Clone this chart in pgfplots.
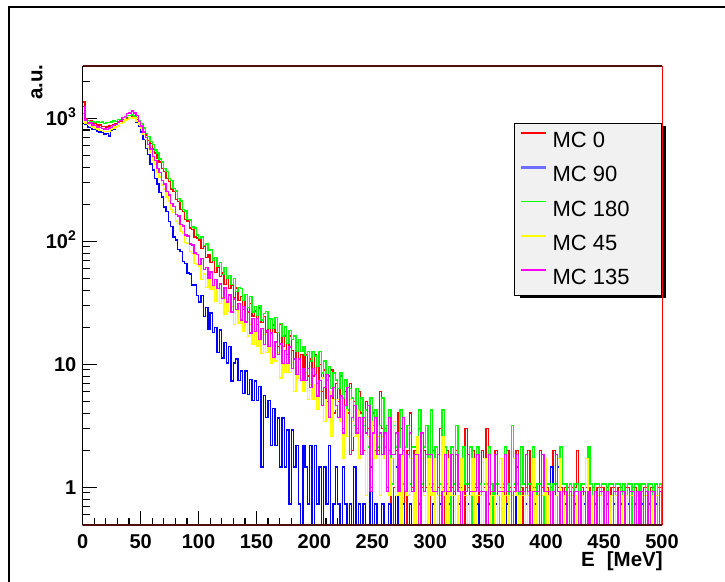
\documentclass[border=0pt]{standalone}
\usepackage{fontspec}
\setmainfont{Liberation Sans}
\usepackage{pgfplots}
\usepackage{pgfplotstable}
\pgfplotsset{compat=1.18}
\definecolor{hred}{RGB}{255,0,0}
\definecolor{hblue}{RGB}{0,0,255}
\definecolor{hgreen}{RGB}{0,255,0}
\definecolor{hyellow}{RGB}{255,255,0}
\definecolor{hmag}{RGB}{255,0,255}
\definecolor{hbluelight}{RGB}{110,110,255}
\definecolor{legfill}{RGB}{241,241,241}
\definecolor{framedark}{RGB}{80,15,15}
\pgfplotstableread{
x r b g y m
0 0.01 0.01 0.01 0.01 0.01
0 1350 1010 1085 1000 1240
2 995 885 980 915 965
4 955 850 960 895 915
6 948 845 935 860 912
8 915 812 942 850 880
10 910 808 925 822 872
12 882 785 935 818 845
14 880 770 918 795 842
16 858 765 930 792 820
18 860 742 905 775 818
20 845 748 918 780 805
22 862 715 925 782 830
24 868 795 928 810 840
26 890 815 948 822 872
28 900 850 945 850 890
30 930 865 972 866 932
32 940 905 980 905 955
34 972 925 1010 925 1008
36 980 965 1018 965 1035
38 1005 978 1048 980 1090
40 1008 1010 1045 1010 1105
42 1020 1002 1062 1005 1140
44 995 995 1040 1000 1100
46 970 925 1015 945 1045
48 905 855 960 895 945
50 860 770 900 830 865
52 780 672 830 735 770
54 730 570 755 668 698
56 660 505 712 580 612
58 620 425 648 525 560
60 560 378 612 455 490
62 522 322 550 418 452
64 468 292 520 360 392
66 440 248 465 332 362
68 390 228 440 286 312
70 368 190 392 265 292
72 322 174 370 228 252
74 305 144 325 212 238
76 265 132 310 182 202
78 252 108 268 172 192
80 218 102 256 146 165
82 210 86 222 140 160
84 182 82 212 120 136
86 175 68 182 116 133
88 150 66 176 98 112
90 146 55 150 96 110
92 128 54 149 82 95
94 125 44 130 79 93
96 108 44 128 66 80
98 106 36 112 65 78
100 102 32 105 63 65
102 87 36 108 49 72
104 91 24.5 92 54 59
106 74 29 95 42 61
108 78 19.2 84 50 50
110 67 26 86 40.5 56
112 72 18 70 43 43.5
114 55.5 20 74 32.7 49
116 61 12.4 63 41 41.5
118 51.6 19 67 31.2 45
120 55 11.2 53.7 34.8 34.2
122 44.4 15 60.8 25.4 41.7
124 50.3 10.2 50.3 33.8 32
126 41.1 13.9 52.6 26.9 36.6
128 43.4 7.3 44.2 29.3 26.6
130 35 10.2 49.7 21 34
132 41.7 11 39 27.6 28
134 33 7.4 41.8 21.6 31
136 35.6 8.8 41.4 26.3 22.9
138 27.9 5.8 32.8 18.6 29.6
140 37 8.8 36.7 21.9 22
142 26.6 5.7 29 17 26.9
144 31 7.5 35.5 21 17.9
146 24.7 5.1 26.5 14.6 23.5
148 27 7.3 29.5 19.5 18.5
150 20.9 5.1 24.8 14.1 23.4
152 28.6 6.6 30.1 16.7 15.8
154 21.8 1.46 22.9 12.2 19.6
156 24.3 5.6 25.8 17.4 14.5
158 18.1 3.7 26.7 12.4 18.6
160 23.6 5.1 19.6 14.5 14
162 17.7 2.19 23.3 10.2 17.9
164 20.8 4.38 19.4 14.1 11.4
166 18 2.19 23.9 10.6 15.2
168 14 3.65 18 12.5 12
170 21 1.46 21.3 7.74 14.6
172 14 3.65 16.9 12.9 10.1
174 17 1.46 20.1 8.6 12.9
176 12 2.92 14.8 11.2 10.1
178 17 0.73 18.7 8.6 13.8
180 13 2.92 15.9 10.3 9.2
182 11 1.46 16.9 6.02 11
184 15 2.19 12.7 9.46 8.28
186 11 0.73 15.9 7.74 11
188 12 0.01 12.7 8.6 7.36
190 9 2.19 13.8 6.02 9.2
192 12 1.46 11.7 8.6 7.36
194 8 0.73 12.7 5.16 9.2
196 11 2.19 10.6 6.88 6.44
198 8 0.01 12.7 5.16 9.2
200 12 2.19 11.66 6.88 8.28
202 7 0.73 9.54 4.3 5.52
204 10 1.46 12.72 6.02 7.36
206 6 0.01 8.48 7.74 4.6
208 9 1.46 10.6 3.44 6.44
210 5 0.73 7.42 5.16 8.28
212 8 2.19 9.54 6.02 3.68
214 9 0.01 6.36 2.58 5.52
216 4 0.73 8.48 5.16 6.44
218 7 1.46 7.42 4.3 4.6
220 5 0.73 6.36 5.16 3.68
222 8 0.01 8.48 3.44 5.52
224 3 1.46 5.3 1.72 2.76
226 6 0.73 7.42 4.3 4.6
228 4 0.01 4.24 2.58 6.44
230 7 0.73 6.36 5.16 1.84
232 2 0.01 5.3 3.44 3.68
234 5 1.46 3.18 2.58 4.6
236 3 0.01 6.36 4.3 2.76
238 6 0.73 4.24 1.72 3.68
240 4 0.01 5.3 2.58 1.84
242 2 0.73 3.18 3.44 3.68
244 5 0.01 4.24 0.86 2.76
246 3 0.01 2.12 2.58 4.6
248 1 1.46 5.3 1.72 0.92
250 4 0.01 3.18 3.44 2.76
252 2 0.73 4.24 1.72 3.68
254 2 0.01 2.12 2.58 1.84
256 6 0.01 3.18 0.86 2.76
258 3 0.73 5.3 2.58 1.84
260 3 0.01 2.12 1.72 2.76
262 1 0.01 3.18 2.58 0.92
264 2 0.73 4.24 0.86 3.68
266 0.01 0.01 1.06 1.72 1.84
268 1 0.01 3.18 3.44 1.84
270 2 1.46 2.12 0.86 2.76
272 4 0.01 2.12 1.72 0.92
274 3 0.01 4.24 0.01 1.84
276 2 0.73 1.06 2.58 3.68
278 0.01 0.01 2.12 1.72 0.92
280 2 0.01 3.18 0.86 1.84
282 4 0.73 1.06 1.72 2.76
284 1 0.01 2.12 1.72 0.92
286 2 0.01 2.12 0.01 1.84
288 0.01 0.01 0.01 2.58 1.84
290 3 0.73 4.24 0.86 0.01
292 1 0.01 1.06 1.72 2.76
294 2 0.01 2.12 0.86 0.92
296 1 0.01 3.18 0.01 1.84
298 0.01 0.01 1.06 1.72 1.84
300 1 0.01 4.24 0.86 1.84
302 2 0.73 1.06 1.72 0.92
304 0.01 0.01 2.12 0.01 0.92
306 1 0.01 0.01 0.86 1.84
308 3 0.73 1.06 0.86 0.01
310 1 0.01 4.24 2.58 0.92
312 0.01 0.01 2.12 0.86 1.84
314 2 0.01 1.06 0.01 0.92
316 1 0.73 0.01 1.72 0.92
318 1 0.01 2.12 0.86 1.84
320 0.01 0.01 1.06 0.86 0.92
322 2 0.01 3.18 0.01 1.84
324 1 0.73 1.06 0.86 0.92
326 1 0.01 0.01 1.72 0.01
328 0.01 0.01 2.12 0.86 0.92
330 3 0.01 1.06 0.86 0.92
332 1 0.73 1.06 0.01 1.84
334 0.01 0.01 2.12 0.86 0.92
336 2 0.01 0.01 1.72 0.92
338 1 0.01 1.06 0.01 0.92
340 1 0.73 2.12 0.86 1.84
342 0.01 0.01 1.06 0.86 0.92
344 2 0.01 0.01 0.01 0.92
346 1 0.01 1.06 1.72 0.92
348 3 0.01 1.06 0.86 0.01
350 1 0.73 2.12 0.01 1.84
352 0.01 0.01 1.06 0.86 0.92
354 1 0.01 0.01 0.86 0.92
356 2 0.73 1.06 0.01 1.84
358 0.01 0.01 1.06 0.86 0.92
360 1 0.01 0.01 1.72 0.92
362 1 0.01 1.06 0.01 0.92
364 0.01 0.01 2.12 0.86 1.84
366 2 0.73 1.06 0.86 0.92
368 1 0.01 0.01 0.01 0.92
370 0.01 0.01 3.18 0.86 0.01
372 1 0.01 1.06 1.72 0.92
374 2 1.46 1.06 0.86 1.84
376 0.01 0.01 0.01 0.01 0.92
378 1 0.01 2.12 0.86 0.92
380 0.01 0.01 1.06 0.86 0.92
382 1 0.73 0.01 0.01 1.84
384 2 0.01 1.06 0.86 0.92
386 0.01 0.01 1.06 0.86 0.01
388 1 0.01 2.12 1.72 0.92
390 1 0.73 0.01 0.01 0.92
392 0.01 0.01 1.06 0.86 0.92
394 2 0.01 1.06 0.01 0.01
396 1 0.01 0.01 0.86 1.84
398 0.01 0.73 1.06 1.72 0.92
400 1 0.01 1.06 0.01 0.92
402 0.01 0.01 1.06 0.86 0.92
404 1 1.46 0.01 0.86 0.01
406 2 0.01 1.06 0.01 0.92
408 0.01 0.01 1.06 0.86 1.84
410 1 1.46 0.01 1.72 0.92
412 1 0.01 2.12 0.86 0.01
414 0.01 0.01 1.06 0.01 0.92
416 1 0.73 1.06 0.86 0.92
418 1 0.01 0.01 0.86 0.01
420 0.01 0.01 1.06 0.01 0.92
422 1 0.01 0.01 0.86 0.01
424 1 0.73 1.06 0.86 0.92
426 2 0.01 1.06 0.01 0.92
428 0.01 0.01 0.01 0.86 0.01
430 1 0.01 1.06 0.86 0.92
432 0.01 0.73 1.06 0.01 0.92
434 1 0.01 0.01 1.72 0.01
436 1 0.01 2.12 0.86 0.92
438 0.01 0.01 1.06 0.01 0.01
440 1 0.01 0.01 0.86 0.01
442 0.01 0.73 1.06 0.01 0.92
444 1 0.01 1.06 0.86 0.01
446 1 0.01 0.01 0.86 0.92
448 1 0.01 1.06 0.01 0.92
450 0.01 0.01 1.06 0.86 0.01
452 1 0.73 0.01 0.86 0.92
454 0.01 0.01 1.06 0.01 0.01
456 1 0.01 1.06 0.86 0.01
458 1 0.73 0.01 0.01 0.92
460 0.01 0.01 1.06 0.86 0.92
462 1 0.01 1.06 0.86 0.01
464 1 0.73 0.01 0.01 0.92
466 0.01 0.01 1.06 0.86 0.92
468 1 0.01 0.01 0.86 0.01
470 1 0.73 1.06 0.01 0.01
472 0.01 0.01 1.06 0.86 0.92
474 1 0.01 0.01 0.86 0.92
476 1 0.73 1.06 0.01 0.01
478 0.01 0.01 1.06 0.86 0.92
480 1 0.01 0.01 0.86 0.01
482 0.01 0.73 1.06 0.01 0.92
484 1 0.01 1.06 0.86 0.01
486 1 0.01 0.01 0.86 0.92
488 0.01 0.73 1.06 0.01 0.01
490 1 0.01 1.06 0.86 0.92
492 1 0.01 0.01 0.01 0.92
494 0.01 0.73 1.06 0.86 0.01
496 1 0.01 0.01 0.86 0.01
498 1 0.01 1.06 0.01 0.92
500 1 0.01 1.06 0.01 0.92
500 0.01 0.01 0.01 0.01 0.01
}\histdata
\begin{document}
\begin{tikzpicture}
\useasboundingbox (0pt,0pt) rectangle (725pt,-581pt);
\draw[line width=2.3pt] (9pt,-600pt) -- (9pt,-6.7pt) -- (740pt,-6.7pt);
\begin{axis}[
  name=ax,
  at={(82.7pt,-525pt)}, anchor=south west,
  scale only axis, width=579.3pt, height=458.7pt,
  ymode=log, log basis y=10,
  xmin=0, xmax=500, ymin=0.493, ymax=2640,
  axis line style={draw=none},
  xtick={0,50,100,150,200,250,300,350,400,450,500},
  xticklabels={0,50,100,150,200,250,300,350,400,450,500},
  minor x tick num=4,
  ytick={1,10,100,1000},
  yticklabels={1,10,10\textsuperscript{2},10\textsuperscript{3}},
  minor ytick={0.5,0.6,0.7,0.8,0.9,2,3,4,5,6,7,8,9,20,30,40,50,60,70,80,90,200,300,400,500,600,700,800,900,2000},
  tick align=inside, tick pos=left,
  major tick length=14pt, minor tick length=7pt,
  xtick style={draw=black, line width=1.2pt},
  ytick style={draw=black, line width=1.2pt},
  tick label style={font=\fontsize{20}{24}\selectfont\bfseries},
  xticklabel style={inner sep=0pt, anchor=north, yshift=-9pt},
  yticklabel style={inner sep=0pt, anchor=base east, xshift=-6.2pt, yshift=-7.1pt},
  legend style={at={(1,0.877)}, anchor=north east,
    draw=black, line width=0.7pt, fill=legfill,
    inner xsep=5.4pt, inner ysep=0.4pt, row sep=0pt, column sep=5pt,
    font=\fontsize{22}{25}\selectfont,
    nodes={inner sep=0pt, minimum height=34.3pt}},
  legend cell align=left,
  every axis plot/.append style={const plot mark left, line width=1.35pt, mark=none},
]
\addplot[draw=hred, legend image code/.code={\draw[draw=hred, line width=1.6pt] (0pt,7.6pt) -- (25.6pt,7.6pt);}] table[x=x, y=r] {\histdata};
\addlegendentry{\makebox[103.6pt][l]{MC 0}}
\addplot[draw=hblue, legend image code/.code={\draw[draw=hbluelight, line width=2.4pt] (0pt,7.6pt) -- (25.6pt,7.6pt);}] table[x=x, y=b] {\histdata};
\addlegendentry{\makebox[103.6pt][l]{MC 90}}
\addplot[draw=hgreen, legend image code/.code={\draw[draw=hgreen, line width=1.6pt] (0pt,7.6pt) -- (25.6pt,7.6pt);}] table[x=x, y=g] {\histdata};
\addlegendentry{\makebox[103.6pt][l]{MC 180}}
\addplot[draw=hyellow, legend image code/.code={\draw[draw=hyellow, line width=1.6pt] (0pt,7.6pt) -- (25.6pt,7.6pt);}] table[x=x, y=y] {\histdata};
\addlegendentry{\makebox[103.6pt][l]{MC 45}}
\addplot[draw=hmag, legend image code/.code={\draw[draw=hmag, line width=1.6pt] (0pt,7.6pt) -- (25.6pt,7.6pt);}] table[x=x, y=m] {\histdata};
\addlegendentry{\makebox[103.6pt][l]{MC 135}}
\end{axis}
\fill[black] (662.6pt,-125.7pt) rectangle (665.6pt,-298.2pt);
\fill[black] (520.3pt,-295.2pt) rectangle (665.6pt,-298.2pt);
\draw[line width=1.8pt, framedark] (ax.north west) -- (ax.north east);
\draw[line width=1.8pt, framedark] (ax.south west) -- (ax.south east);
\draw[line width=1pt, hred] (ax.south east) -- (ax.north east);
\draw[line width=1.4pt, black] (ax.south west) -- (ax.north west);
\node[rotate=90, anchor=west, inner sep=0pt, font=\fontsize{20.5}{24}\selectfont\bfseries] at (37pt,-100pt) {a.u.};
\node[anchor=west, inner sep=0pt, font=\fontsize{20.5}{24}\selectfont\bfseries] at (581pt,-561.5pt) {E\hspace{12pt}[MeV]};
\end{tikzpicture}
\end{document}
